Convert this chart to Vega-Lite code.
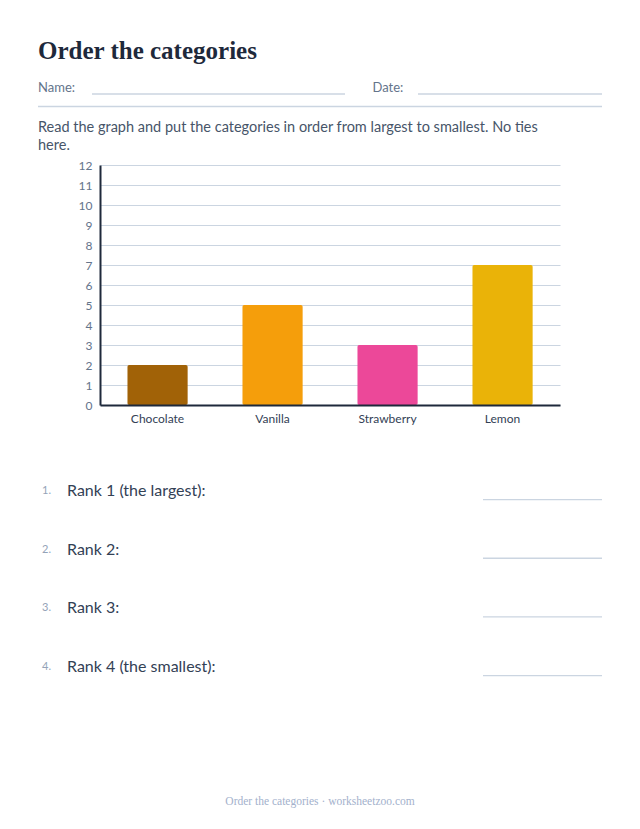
{
"$schema":"https://vega.github.io/schema/vega-lite/v6.json",
"width":460,"height":240,
"autosize":{"type":"none"},
"padding":{"left":100,"top":165,"right":80,"bottom":424},
"background":"white",
"config":{"view":{"stroke":null},"font":"Lato"},
"datasets":{
"ranks":[{"number":"1.","prompt":"Rank 1 (the largest):"},{"number":"2.","prompt":"Rank 2:"},{"number":"3.","prompt":"Rank 3:"},{"number":"4.","prompt":"Rank 4 (the smallest):"}],
"bars":[{"flavor":"Chocolate","count":2},{"flavor":"Vanilla","count":5},{"flavor":"Strawberry","count":3},{"flavor":"Lemon","count":7}]
},
"resolve":{"scale":{"x":"independent","y":"independent","color":"independent"},"axis":{"x":"independent","y":"independent"}},
"layer":[
{"data":{"name":"bars"},
"mark":{"type":"bar","cornerRadius":2},
"encoding":{
"x":{"field":"flavor","type":"nominal","sort":null,"scale":{"domain":["Chocolate","Vanilla","Strawberry","Lemon"],"paddingInner":0.473,"paddingOuter":0.2365},"axis":{"title":null,"labelAngle":0,"ticks":false,"labelPadding":8,"labelFont":"Lato","labelFontSize":12,"labelColor":"#334155","domainColor":"#1e293b","domainWidth":2,"zindex":1}},
"y":{"field":"count","type":"quantitative","scale":{"domain":[0,12]},"axis":{"orient":"left","title":null,"values":[0,1,2,3,4,5,6,7,8,9,10,11,12],"ticks":false,"labels":false,"domain":false,"grid":true,"gridColor":"#cbd5e1","gridWidth":1,"zindex":0}},
"color":{"field":"flavor","type":"nominal","legend":null,"scale":{"domain":["Chocolate","Vanilla","Strawberry","Lemon"],"range":["#a16207","#f59e0b","#ec4899","#eab308"]}}
}},
{"data":{"name":"bars"},
"mark":{"type":"rule","opacity":0},
"encoding":{
"y":{"field":"count","type":"quantitative","scale":{"domain":[0,12]},"axis":{"orient":"left","title":null,"values":[0,1,2,3,4,5,6,7,8,9,10,11,12],"ticks":false,"grid":false,"labelPadding":8,"labelFont":"Lato","labelFontSize":12,"labelColor":"#64748b","domainColor":"#1e293b","domainWidth":2,"zindex":1}}
}},
{"data":{"values":[{"label":"Order the categories"}]},"mark":{"type":"text","align":"left","baseline":"alphabetic","fontSize":25,"fontWeight":"bold","color":"#1e293b","font":"Liberation Serif"},
"encoding":{"text":{"field":"label"},"x":{"datum":38,"scale":{"domain":[0,640],"range":[-100,540]},"axis":null},"y":{"datum":59,"scale":{"domain":[0,829],"range":[-165,664]},"axis":null}}},
{"data":{"values":[{"label":"Name:"}]},"mark":{"type":"text","align":"left","baseline":"alphabetic","fontSize":13,"color":"#64748b","font":"Lato"},
"encoding":{"text":{"field":"label"},"x":{"datum":38,"scale":{"domain":[0,640],"range":[-100,540]},"axis":null},"y":{"datum":92,"scale":{"domain":[0,829],"range":[-165,664]},"axis":null}}},
{"data":{"values":[{"label":"Date:"}]},"mark":{"type":"text","align":"left","baseline":"alphabetic","fontSize":13,"color":"#64748b","font":"Lato"},
"encoding":{"text":{"field":"label"},"x":{"datum":372.5,"scale":{"domain":[0,640],"range":[-100,540]},"axis":null},"y":{"datum":92,"scale":{"domain":[0,829],"range":[-165,664]},"axis":null}}},
{"data":{"values":[{"line":"name"}]},"mark":{"type":"rule","color":"#cbd5e1","strokeWidth":1.3},
"encoding":{"x":{"datum":92,"scale":{"domain":[0,640],"range":[-100,540]},"axis":null},"x2":{"datum":345},"y":{"datum":94,"scale":{"domain":[0,829],"range":[-165,664]},"axis":null}}},
{"data":{"values":[{"line":"date"}]},"mark":{"type":"rule","color":"#cbd5e1","strokeWidth":1.3},
"encoding":{"x":{"datum":418,"scale":{"domain":[0,640],"range":[-100,540]},"axis":null},"x2":{"datum":602},"y":{"datum":94,"scale":{"domain":[0,829],"range":[-165,664]},"axis":null}}},
{"data":{"values":[{"line":"divider"}]},"mark":{"type":"rule","color":"#cbd5e1","strokeWidth":1.3},
"encoding":{"x":{"datum":38,"scale":{"domain":[0,640],"range":[-100,540]},"axis":null},"x2":{"datum":602},"y":{"datum":106.5,"scale":{"domain":[0,829],"range":[-165,664]},"axis":null}}},
{"data":{"values":[{"label":"Read the graph and put the categories in order from largest to smallest. No ties\nhere."}]},"mark":{"type":"text","align":"left","baseline":"alphabetic","lineBreak":"\n","lineHeight":17.5,"fontSize":14.5,"color":"#475569","font":"Lato"},
"encoding":{"text":{"field":"label"},"x":{"datum":38,"scale":{"domain":[0,640],"range":[-100,540]},"axis":null},"y":{"datum":132,"scale":{"domain":[0,829],"range":[-165,664]},"axis":null}}},
{"data":{"name":"ranks"},"mark":{"type":"text","align":"left","baseline":"alphabetic","fontSize":11,"color":"#94a3b8","font":"Lato"},
"encoding":{"text":{"field":"number"},"x":{"datum":42,"scale":{"domain":[0,640],"range":[-100,540]},"axis":null},"y":{"field":"number","type":"nominal","sort":null,"scale":{"type":"point","padding":0,"domain":["1.","2.","3.","4."],"range":[329,505]},"axis":null}}},
{"data":{"name":"ranks"},"mark":{"type":"text","align":"left","baseline":"alphabetic","fontSize":16,"color":"#334155","font":"Lato"},
"encoding":{"text":{"field":"prompt"},"x":{"datum":67,"scale":{"domain":[0,640],"range":[-100,540]},"axis":null},"y":{"field":"number","type":"nominal","sort":null,"scale":{"type":"point","padding":0,"domain":["1.","2.","3.","4."],"range":[331,507]},"axis":null}}},
{"data":{"name":"ranks"},"mark":{"type":"rule","color":"#cbd5e1","strokeWidth":1.3},
"encoding":{"x":{"datum":483,"scale":{"domain":[0,640],"range":[-100,540]},"axis":null},"x2":{"datum":602},"y":{"field":"number","type":"nominal","sort":null,"scale":{"type":"point","padding":0,"domain":["1.","2.","3.","4."],"range":[334.6,510.6]},"axis":null}}},
{"data":{"values":[{"label":"Order the categories · worksheetzoo.com"}]},"mark":{"type":"text","align":"center","baseline":"alphabetic","fontSize":11.5,"color":"#a3b1cc","font":"Liberation Serif"},
"encoding":{"text":{"field":"label"},"x":{"datum":320,"scale":{"domain":[0,640],"range":[-100,540]},"axis":null},"y":{"datum":805,"scale":{"domain":[0,829],"range":[-165,664]},"axis":null}}}
]
}
